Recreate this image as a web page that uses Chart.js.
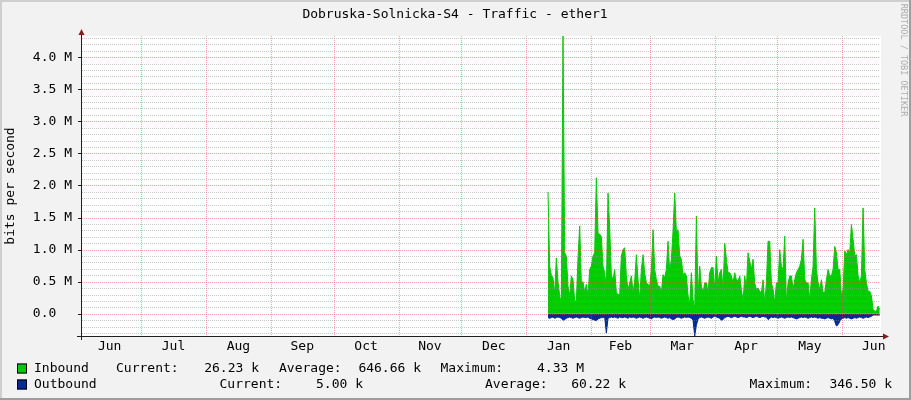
<!DOCTYPE html>
<html>
<head>
<meta charset="utf-8">
<title>Dobruska-Solnicka-S4 - Traffic - ether1</title>
<script src="https://cdn.jsdelivr.net/npm/chart.js@4.4.1/dist/chart.umd.min.js"></script>
<style>
    html, body { margin: 0; padding: 0; background: #F2F2F2; }
    #wrap { width: 911px; height: 400px; }
</style>
</head>
<body>
<div id="wrap"><canvas id="traffic" width="911" height="400"></canvas></div>
<script>
const FONT = '"DejaVu Sans Mono", monospace';

// osa x: dny od 1. cervna
const monthNames = ['Jun', 'Jul', 'Aug', 'Sep', 'Oct', 'Nov', 'Dec', 'Jan', 'Feb', 'Mar', 'Apr', 'May', 'Jun'];
const monthStarts = [0, 30, 61, 92, 122, 153, 183, 214, 245, 273, 304, 334, 365];
const monthDays = [30, 31, 31, 30, 31, 30, 31, 31, 28, 31, 30, 31, 30];
const xMin = 1.3;
const xMax = 383;

// osa y (Mb/s), meze = extremy dat jako u rrdtool autoscale
const yMajorLabels = ['0.0  ', '0.5 M', '1.0 M', '1.5 M', '2.0 M', '2.5 M', '3.0 M', '3.5 M', '4.0 M'];
const yMin = -0.3465;
const yMax = 4.33;

// vzorky od 11. ledna, krok ~0.8 dne
const sampleStart = 224.4;
const sampleStep = 0.7964;

const inbound = [
    1.9, 0.74, 0.6, 0.56, 0.3, 0.87, 0.5, 0.28, 0.17, 4.33, 0.95, 0.9, 0.43, 0.28, 0.59, 0.53, 0.2, 0.2, 0.87, 1.37,
    0.48, 0.5, 0.33, 0.46, 0.28, 0.69, 0.74, 0.9, 0.95, 2.12, 1.26, 1.24, 1.2,
    0.74, 0.64, 0.4, 1.88, 1.34, 0.6, 0.53, 0.69, 0.33, 0.3, 0.3, 0.9, 1.0, 1.03, 0.59, 0.38, 0.48, 0.59, 0.33, 0.51,
    0.92, 0.53, 0.22, 0.69, 0.92, 0.64, 0.48, 0.46, 0.43, 0.69, 1.31, 0.69, 0.53,
    0.43, 0.43, 0.33, 0.61, 0.56, 0.69, 1.13, 0.66, 0.85, 1.29, 1.88, 1.29, 1.31, 0.9, 0.85, 0.61, 0.64, 0.59, 0.28,
    0.15, 0.64, 0.22, 0.07, 1.52, 0.28, 0.74, 0.43, 0.33, 0.48, 0.48, 0.33, 0.64, 0.72,
    0.72, 0.38, 0.9, 0.48, 0.64, 0.69, 0.38, 1.1, 0.85, 0.64, 0.64, 0.59, 0.48, 0.64, 0.53, 0.51, 0.59, 0.38, 0.2,
    0.59, 0.4, 0.95, 0.82, 0.69, 0.85, 0.48, 0.38, 0.4, 0.35, 0.33, 0.53, 0.17, 0.48,
    1.13, 1.13, 0.48, 0.38, 0.17, 0.48, 0.48, 1.0, 0.74, 0.69, 1.21, 0.17, 0.48, 0.59, 0.59, 0.38, 0.53, 0.64, 0.69,
    0.74, 0.85, 1.16, 0.53, 0.48, 0.48, 0.22, 0.53, 0.74, 1.65, 0.69, 0.48, 0.38, 0.53,
    0.33, 0.33, 0.53, 0.69, 0.59, 0.59, 0.69, 1.05, 0.95, 0.69, 0.69, 0.28, 0.38, 0.98, 0.92, 1.0, 0.95, 1.39, 1.16,
    0.9, 0.92, 0.59, 0.48, 0.59, 1.65, 0.69, 0.48, 0.35, 0.35, 0.28, 0.07, 0.04, 0.04, 0.12, 0.07
];

// odchozi provoz, kresli se pod nulu
const outbound = [
    0.06, 0.07, 0.06, 0.05, 0.07, 0.06, 0.05, 0.06, 0.07, 0.1, 0.09, 0.07, 0.06, 0.05, 0.06, 0.07, 0.06, 0.05, 0.06,
    0.07, 0.06, 0.05, 0.06, 0.06, 0.05, 0.07, 0.08, 0.09, 0.1, 0.11, 0.08, 0.07, 0.06,
    0.06, 0.05, 0.3, 0.07, 0.06, 0.05, 0.06, 0.05, 0.06, 0.07, 0.05, 0.06, 0.06, 0.05, 0.06, 0.07, 0.05, 0.06, 0.05,
    0.06, 0.07, 0.06, 0.05, 0.06, 0.07, 0.06, 0.05, 0.06, 0.07, 0.08, 0.06, 0.05, 0.06,
    0.05, 0.06, 0.07, 0.06, 0.05, 0.06, 0.07, 0.06, 0.08, 0.09, 0.08, 0.06, 0.05, 0.06, 0.07, 0.06, 0.05, 0.06, 0.05,
    0.06, 0.07, 0.1, 0.3465, 0.18, 0.08, 0.06, 0.05, 0.06, 0.07, 0.06, 0.05, 0.06, 0.07,
    0.05, 0.04, 0.05, 0.06, 0.07, 0.1, 0.09, 0.06, 0.05, 0.04, 0.05, 0.06, 0.05, 0.04, 0.05, 0.06, 0.05, 0.04, 0.05,
    0.05, 0.06, 0.05, 0.04, 0.05, 0.06, 0.05, 0.04, 0.05, 0.06, 0.05, 0.04, 0.05, 0.05,
    0.09, 0.07, 0.05, 0.06, 0.05, 0.06, 0.07, 0.06, 0.05, 0.06, 0.07, 0.06, 0.05, 0.06, 0.05, 0.06, 0.07, 0.08, 0.07,
    0.06, 0.05, 0.06, 0.05, 0.06, 0.07, 0.06, 0.05, 0.06, 0.05, 0.06, 0.07, 0.06, 0.07,
    0.07, 0.08, 0.07, 0.06, 0.07, 0.08, 0.07, 0.12, 0.19, 0.17, 0.12, 0.08, 0.07, 0.06, 0.07, 0.06, 0.07, 0.08, 0.07,
    0.06, 0.07, 0.06, 0.05, 0.06, 0.07, 0.06, 0.05, 0.06, 0.05, 0.04, 0.02, 0.02, 0.02, 0.02, 0.02
];

const legendLabels = ['Current:', 'Average:', 'Maximum:'];
const inboundStats = ['26.23 k', '646.66 k', '4.33 M'];
const outboundStats = ['5.00 k', '60.22 k', '346.50 k'];

// barvy podle vychozich barev rrdtool
const COL_BACK = '#F2F2F2';
const COL_SHADEA = '#CFCFCF';
const COL_SHADEB = '#9E9E9E';
const COL_GRID = 'rgba(143,143,143,0.5)';
const COL_MGRID = 'rgba(222,79,79,0.5)';
const COL_AXIS = '#1F1F1F';
const COL_ARROW = '#801F1F';
const COL_IN = '#00CC00';
const COL_OUT = '#002A97';

const monthMids = monthStarts.map((s, i) => s + monthDays[i] / 2);

const rrdLook = {
    id: 'rrdLook',
    beforeDraw(chart) {
        const { ctx, chartArea: a } = chart;
        const w = chart.width, h = chart.height;
        ctx.save();
        ctx.fillStyle = COL_BACK;
        ctx.fillRect(0, 0, w, h);
        ctx.fillStyle = COL_SHADEA;
        ctx.fillRect(0, 0, w, 2);
        ctx.fillRect(0, 0, 2, h);
        ctx.fillStyle = COL_SHADEB;
        ctx.fillRect(w - 2, 0, 2, h);
        ctx.fillRect(0, h - 2, w, 2);
        ctx.fillStyle = '#FFFFFF';
        ctx.fillRect(a.left, a.top, a.right - a.left + 1, a.bottom - a.top);
        ctx.restore();
    },
    afterDatasetsDraw(chart) {
        // mrizka teckovane pres data, jako rrdtool
        const { ctx, chartArea: a } = chart;
        const xs = chart.scales.x, ys = chart.scales.y;
        ctx.save();
        ctx.lineWidth = 1;
        ctx.setLineDash([1, 1]);
        const hline = (v, col) => {
            const py = Math.round(ys.getPixelForValue(v)) + 0.5;
            ctx.strokeStyle = col;
            ctx.beginPath();
            ctx.moveTo(a.left + 1, py);
            ctx.lineTo(a.right, py);
            ctx.stroke();
        };
        for (let k = -3; k <= 43; k++) {
            if (k % 5 !== 0) hline(k / 10, COL_GRID);
        }
        for (let k = 0; k < yMajorLabels.length; k++) hline(k * 0.5, COL_MGRID);
        ctx.strokeStyle = COL_MGRID;
        monthStarts.filter(v => v > xMin && v < xMax).forEach(v => {
            const px = Math.round(xs.getPixelForValue(v)) + 0.5;
            ctx.beginPath();
            ctx.moveTo(px, a.top);
            ctx.lineTo(px, a.bottom);
            ctx.stroke();
        });
        ctx.restore();
    },
    afterDraw(chart) {
        const { ctx, chartArea: a } = chart;
        const ys = chart.scales.y;
        ctx.save();

        // osy
        ctx.fillStyle = COL_AXIS;
        ctx.fillRect(a.left, 33, 1, 340 - 33);
        ctx.fillRect(a.left - 4, a.bottom, a.right + 4 - (a.left - 4), 1);
        for (let k = 0; k < yMajorLabels.length; k++) {
            const py = Math.round(ys.getPixelForValue(k * 0.5));
            ctx.fillRect(a.left - 3, py, 3, 1);
        }

        // sipky
        ctx.fillStyle = COL_ARROW;
        ctx.beginPath();
        ctx.moveTo(a.left - 2.5, 35);
        ctx.lineTo(a.left + 3.5, 35);
        ctx.lineTo(a.left + 0.5, 29);
        ctx.closePath();
        ctx.fill();
        ctx.beginPath();
        ctx.moveTo(a.right + 3, a.bottom - 2.5);
        ctx.lineTo(a.right + 3, a.bottom + 3.5);
        ctx.lineTo(a.right + 9, a.bottom + 0.5);
        ctx.closePath();
        ctx.fill();

        // titulek
        ctx.fillStyle = '#000';
        ctx.font = '13px ' + FONT;
        ctx.textAlign = 'center';
        ctx.textBaseline = 'middle';
        ctx.fillText('Dobruska-Solnicka-S4 - Traffic - ether1', 455, 15);

        // popis osy y
        ctx.save();
        ctx.translate(11, 186);
        ctx.rotate(-Math.PI / 2);
        ctx.fillText('bits per second', 0, 0);
        ctx.restore();

        // vodoznak
        ctx.save();
        ctx.translate(903, 60);
        ctx.rotate(Math.PI / 2);
        ctx.font = '8.5px ' + FONT;
        ctx.fillStyle = 'rgba(0,0,0,0.3)';
        ctx.fillText('RRDTOOL / TOBI OETIKER', 0, 0);
        ctx.restore();

        // legenda
        const rows = [
            { y: 368.5, color: COL_IN, name: 'Inbound', stats: inboundStats,
              lab: [116, 279, 440.5], val: [259, 421, 584] },
            { y: 384.5, color: COL_OUT, name: 'Outbound', stats: outboundStats,
              lab: [219.5, 485, 749.5], val: [363, 626, 892] }
        ];
        rows.forEach(r => {
            ctx.fillStyle = r.color;
            ctx.fillRect(17, r.y - 5, 10, 10);
            ctx.strokeStyle = '#000';
            ctx.lineWidth = 1;
            ctx.strokeRect(17.5, r.y - 4.5, 9, 9);
            ctx.fillStyle = '#000';
            ctx.textAlign = 'left';
            ctx.fillText(r.name, 34, r.y);
            for (let i = 0; i < 3; i++) {
                ctx.textAlign = 'left';
                ctx.fillText(legendLabels[i], r.lab[i], r.y);
                ctx.textAlign = 'right';
                ctx.fillText(r.stats[i], r.val[i], r.y);
            }
        });
        ctx.restore();
    }
};

const ctx = document.getElementById('traffic').getContext('2d');

new Chart(ctx, {
    type: 'line',
    data: {
        datasets: [{
            label: 'Inbound',
            data: inbound.map((v, i) => ({ x: sampleStart + i * sampleStep, y: v })),
            borderColor: COL_IN,
            backgroundColor: COL_IN,
            borderWidth: 1,
            fill: 'origin',
            pointRadius: 0,
            tension: 0
        }, {
            label: 'Outbound',
            data: outbound.map((v, i) => ({ x: sampleStart + i * sampleStep, y: -v })),
            borderColor: COL_OUT,
            backgroundColor: COL_OUT,
            borderWidth: 1,
            fill: 'origin',
            pointRadius: 0,
            tension: 0
        }]
    },
    options: {
        responsive: false,
        devicePixelRatio: 1,
        animation: false,
        events: [],
        layout: { padding: { left: 0, right: 31, top: 36, bottom: 0 } },
        plugins: {
            legend: { display: false },
            title: { display: false },
            tooltip: { enabled: false }
        },
        scales: {
            x: {
                type: 'linear',
                min: xMin,
                max: xMax,
                afterBuildTicks: scale => {
                    scale.ticks = monthMids.map(v => ({ value: v }));
                },
                afterFit: scale => { scale.height = 64; },
                ticks: {
                    autoSkip: false,
                    maxRotation: 0,
                    padding: 3,
                    color: '#000',
                    font: { family: FONT, size: 13 },
                    callback: v => monthNames[monthMids.indexOf(v)]
                },
                grid: { display: false, drawTicks: false },
                border: { display: false }
            },
            y: {
                min: yMin,
                max: yMax,
                afterBuildTicks: scale => {
                    scale.ticks = yMajorLabels.map((l, k) => ({ value: k * 0.5 }));
                },
                afterFit: scale => { scale.width = 81; },
                ticks: {
                    autoSkip: false,
                    padding: 9,
                    color: '#000',
                    font: { family: FONT, size: 13 },
                    callback: v => yMajorLabels[Math.round(v * 2)]
                },
                grid: { display: false, drawTicks: false },
                border: { display: false }
            }
        }
    },
    plugins: [rrdLook]
});
</script>
</body>
</html>
